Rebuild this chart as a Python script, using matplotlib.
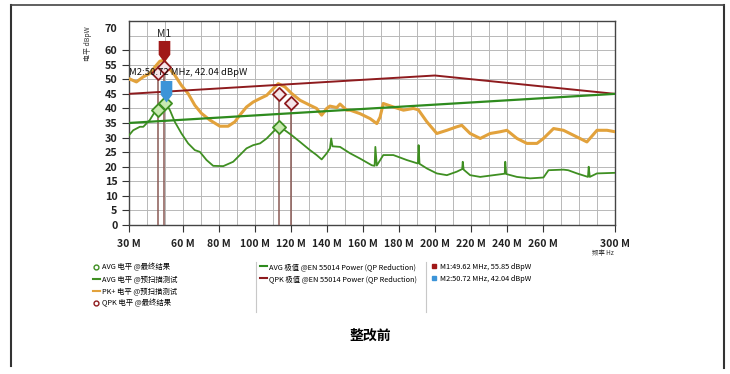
import matplotlib
matplotlib.use("Agg")
import matplotlib.pyplot as plt
from matplotlib.path import Path
from matplotlib.lines import Line2D
from matplotlib import transforms
import numpy as np

plt.rcParams['font.family'] = ['Noto Sans CJK SC', 'DejaVu Sans']

# ---------------- data ----------------
pk_freq = [30, 30.3, 34.4, 38.1, 41.8, 44.6, 47.4, 49.6, 52, 55.7, 59.4, 63.1, 66.8, 70.5, 75.2, 80.7,
           85.3, 89, 91.8, 95.5, 99.2, 103, 106.7, 110.3, 113.1, 116.8, 120.6, 125.2, 130.7, 134.4,
           137.2, 140, 141.8, 145.6, 147.4, 151.1, 153, 158.5, 164.1, 167.8, 169.6, 171.4, 177, 182.6,
           188.1, 190.9, 195.6, 201.1, 206.7, 212.2, 215, 219.6, 225.2, 230.7, 236.3, 240, 245.6,
           251.1, 256.7, 260.3, 265.9, 271.4, 278.9, 284.4, 290, 295.6, 300]
pk_level = [50, 50.2, 49.1, 50.8, 52, 54.2, 56.2, 56.5, 54.2, 51.4, 47.9, 45.1, 41.1, 38.3, 36, 33.9,
            33.9, 35.4, 37.7, 40.5, 42.2, 43.4, 44.5, 46.8, 48.5, 47.4, 45.1, 42.8, 41.1, 40,
            37.7, 40, 40.8, 40.3, 41.5, 39.4, 39.4, 38.2, 36.5, 34.8, 37, 41.7, 40.5, 39.4,
            40, 39.5, 35.4, 31.4, 32.5, 33.7, 34.2, 31.4, 29.7, 31.4, 32, 32.5, 29.7,
            28, 28, 29.7, 33.1, 32.5, 30.2, 28.5, 32.5, 32.5, 32]

avg_freq = [30, 30.3, 32.6, 36.3, 38.2, 41.8, 44.6, 47.4, 50.2, 53, 55.7, 59.4, 63.1, 66.8, 69.6, 73.3,
            77, 82.6, 88.1, 91.8, 95.5, 99.2, 103, 106.7, 110.3, 113.5, 116.8, 120.6, 125.2, 130.7,
            134.4, 137.2, 140, 141.8, 142.5, 143.2, 147.4, 153, 158.5, 165, 166.6, 167, 167.8, 171.4,
            177, 184.4, 190.6, 191, 191.5, 195.6, 201.1, 206.7, 212.2, 215.2, 215.5, 216, 219.6,
            225.2, 232.6, 238.8, 239.1, 239.6, 245.6, 252.9, 260.3, 263.1, 271.4, 274, 278.9,
            285, 285.4, 286, 290, 300]
avg_level = [30.5, 30.8, 32.5, 33.7, 33.7, 36, 38.8, 40.5, 42.2, 39.4, 35.4, 31.4, 28, 25.7, 25.1, 22.3,
             20.3, 20.2, 21.7, 24, 26.3, 27.4, 28, 29.7, 32, 33.7, 32.5, 30.8, 28.5, 25.7,
             24, 22.5, 24.6, 26.3, 29.7, 27, 26.8, 24.6, 22.8, 20.5, 20.3, 26.8, 20.4, 24,
             24, 22.3, 21.1, 27.4, 21, 19.4, 17.7, 17.1, 18.3, 19.2, 21.7, 19, 17.1,
             16.5, 17.1, 17.6, 21.7, 17.5, 16.5, 16, 16.3, 18.8, 19, 18.8, 17.7,
             16.5, 20, 16.5, 17.7, 17.9]

lim_qpk_freq = [30, 200, 300]
lim_qpk_level = [45, 51.3, 45]
lim_avg_freq = [30, 300]
lim_avg_level = [35, 45]

qpk_final_freq = [46.6, 49.8, 113.7, 120.0]
qpk_final_level = [52.0, 54.3, 44.9, 41.7]
avg_final_freq = [46.6, 50.2, 113.7]
avg_final_level = [39.4, 41.9, 33.7]

m_names = ["M1", "M2"]
m_freq = [49.62, 50.72]
m_level = [55.85, 42.04]

xtick_vals = [30, 60, 80, 100, 120, 140, 160, 180, 200, 220, 240, 260, 300]
xtick_labels = ["30 M", "60 M", "80 M", "100 M", "120 M", "140 M", "160 M", "180 M",
                "200 M", "220 M", "240 M", "260 M", "300 M"]
ytick_vals = [0, 5, 10, 15, 20, 25, 30, 35, 40, 45, 50, 55, 60, 70]

legend_col1 = ["AVG 电平 @最终结果", "AVG 电平 @预扫描测试", "PK+ 电平 @预扫描测试", "QPK 电平 @最终结果"]
legend_col2 = ["AVG 极值 @EN 55014 Power (QP Reduction)", "QPK 极值 @EN 55014 Power (QP Reduction)"]
legend_col3 = ["M1:49.62 MHz, 55.85 dBpW", "M2:50.72 MHz, 42.04 dBpW"]

# ---------------- colors ----------------
c_pk = "#E2A23C"
c_avg = "#3F8F22"
c_lqpk = "#8E1B1E"
c_lavg = "#2E8B1E"
c_m1 = "#A01818"
c_m2 = "#3C94D8"

fig = plt.figure(figsize=(7.30, 3.74), dpi=100)
ax = fig.add_axes([128.5/730, 1-225/374, (615-128.5)/730, (225-21)/374])

ax.set_xlim(30, 300)
ax.set_ylim(0, 70)
ax.set_xticks(np.arange(30, 301, 10), minor=True)
ax.set_yticks(np.arange(0, 71, 5), minor=True)
ax.grid(which='minor', color='#b8b8b8', lw=0.7)
ax.grid(which='major', color='#b8b8b8', lw=0.7)
ax.tick_params(which='minor', length=0)
ax.set_xticks(xtick_vals)
ax.set_xticklabels(xtick_labels, fontsize=7.5, fontweight='bold', color='#222222')
ax.set_yticks(ytick_vals)
ax.set_yticklabels([str(v) for v in ytick_vals], fontsize=7.8, fontweight='bold', color='#222222')
ax.tick_params(axis='both', which='major', length=5, width=0.8, color='#333333', pad=3)
ax.tick_params(axis='x', pad=5)
for s in ax.spines.values():
    s.set_color('#444444')
    s.set_linewidth(1.0)
# shift "70" label slightly downward as in reference
lab70 = ax.get_yticklabels()[-1]
lab70.set_transform(lab70.get_transform() + transforms.ScaledTranslation(0, -7/100, fig.dpi_scale_trans))
ax.yaxis.get_major_ticks()[-1].tick1line.set_visible(False)

# vertical lines of final results
for f, v in zip(qpk_final_freq, qpk_final_level):
    ax.plot([f, f], [0, v], color='#8a5a55', lw=1.1, zorder=3)

# traces
ax.plot(avg_freq, avg_level, color=c_avg, lw=1.3, zorder=4)
ax.plot(pk_freq, pk_level, color=c_pk, lw=2.2, zorder=4)
# limits
ax.plot(lim_qpk_freq, lim_qpk_level, color=c_lqpk, lw=1.4, zorder=5)
ax.plot(lim_avg_freq, lim_avg_level, color=c_lavg, lw=1.6, zorder=5)

# final markers
ax.scatter(avg_final_freq, avg_final_level, marker='D', s=45, facecolor='#c8eab0',
           edgecolor=c_avg, linewidths=1.3, zorder=7)
ax.scatter(qpk_final_freq, qpk_final_level, marker='D', s=45, facecolor='#f6e6ea',
           edgecolor=c_lqpk, linewidths=1.3, zorder=7)

# M markers (pentagon pointing down, tip at data point)
verts = [(0, 0), (-0.27, 0.36), (-0.27, 1.0), (0.27, 1.0), (0.27, 0.36), (0, 0)]
codes = [Path.MOVETO] + [Path.LINETO] * 4 + [Path.CLOSEPOLY]
mpath = Path(verts, codes)
for name, f, v, c in zip(m_names, m_freq, m_level, [c_m1, c_m2]):
    ax.plot([f], [v], marker=mpath, markersize=31, color=c, markeredgewidth=0, zorder=8)
ax.annotate(m_names[0], (m_freq[0], m_level[0]), xytext=(0, 16.5), textcoords='offset points',
            ha='center', va='bottom', fontsize=7.5, color='#222222', zorder=9)
ax.text(30.3, 52.4, "M2:50.72 MHz, 42.04 dBpW", fontsize=6.8, va='center', ha='left',
        color='#111111', zorder=9)

# axis labels
fig.text(88/730, 1-44/374, "电平 dBpW", rotation=90, fontsize=5, ha='center', va='center', color='#333333')
fig.text(603/730, 1-253/374, "频率 Hz", fontsize=4.6, ha='center', va='center', color='#333333')

# legends
h1 = [Line2D([], [], ls='none', marker='o', mfc='white', mec=c_avg, ms=3.5, mew=1),
      Line2D([], [], color=c_avg, lw=1.5),
      Line2D([], [], color=c_pk, lw=1.5),
      Line2D([], [], ls='none', marker='o', mfc='white', mec=c_lqpk, ms=3.5, mew=1)]
h2 = [Line2D([], [], color=c_lavg, lw=1.5), Line2D([], [], color=c_lqpk, lw=1.5)]
h3 = [Line2D([], [], ls='none', marker='s', color=c_m1, ms=2.5),
      Line2D([], [], ls='none', marker='s', color=c_m2, ms=2.5)]
common = dict(frameon=False, fontsize=5.3, handlelength=0.9, handletextpad=0.3,
              labelspacing=0.55, borderaxespad=0, borderpad=0)
fig.legend(h1, legend_col1, loc='upper left', bbox_to_anchor=(93/730, 1-263/374), **common)
fig.legend(h2, legend_col2, loc='upper left', bbox_to_anchor=(260/730, 1-263/374), **common)
fig.legend(h3, legend_col3, loc='upper left', bbox_to_anchor=(431/730, 1-263/374), **common)
for xs in [256, 426]:
    fig.add_artist(Line2D([xs/730, xs/730], [1-262/374, 1-312/374], color='#c8c8c8', lw=0.8))

fig.text(370/730, 1-336/374, "整改前", fontsize=10, fontweight='bold', ha='center', va='center')

# outer frame
fig.add_artist(Line2D([11/730, 11/730], [1-5/374, 1-366/374], color='#333333', lw=1.5))
fig.add_artist(Line2D([724/730, 724/730], [1-5/374, 1-368/374], color='#333333', lw=1.5))
fig.add_artist(Line2D([11/730, 724/730], [1-5/374, 1-5/374], color='#444444', lw=1.2))

fig.savefig("out.png", dpi=100)
